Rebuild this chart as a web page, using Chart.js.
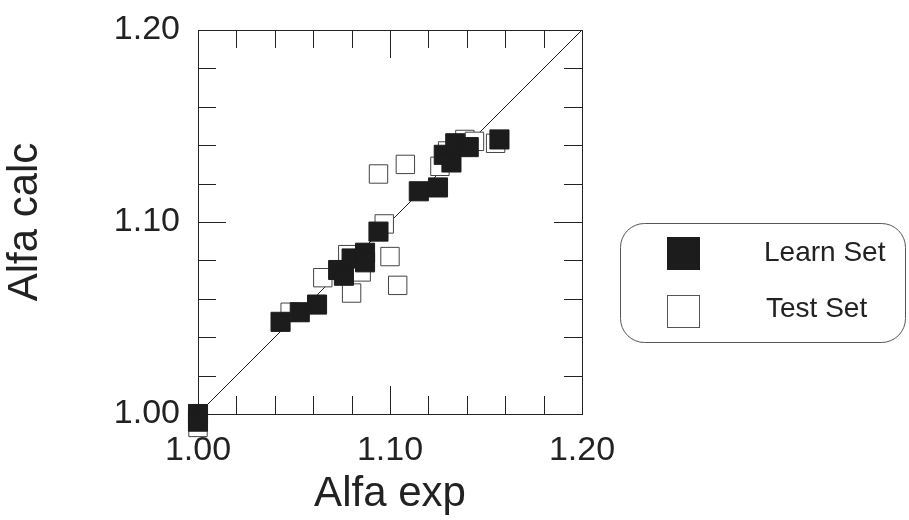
<!DOCTYPE html>
<html>
<head>
<meta charset="utf-8">
<script src="https://cdn.jsdelivr.net/npm/chart.js@4/dist/chart.umd.min.js"></script>
<style>
  body { margin: 0; background: #fff; }
</style>
</head>
<body>
<canvas id="scatterChart" width="909" height="520"></canvas>
<script>
// Learn set (filled squares)
const learnExp  = [1.000, 1.000, 1.043, 1.053, 1.062, 1.073, 1.076, 1.080, 1.087, 1.087, 1.094, 1.115, 1.125, 1.128, 1.132, 1.134, 1.141, 1.157]
const learnCalc = [1.000, 0.996, 1.048, 1.053, 1.057, 1.075, 1.072, 1.081, 1.084, 1.079, 1.095, 1.116, 1.118, 1.135, 1.131, 1.141, 1.139, 1.143]

// Test set (open squares)
const testExp  = [1.000, 1.048, 1.065, 1.078, 1.080, 1.085, 1.097, 1.100, 1.104, 1.094, 1.108, 1.126, 1.130, 1.139, 1.144, 1.155]
const testCalc = [0.993, 1.053, 1.071, 1.083, 1.063, 1.074, 1.099, 1.082, 1.067, 1.125, 1.130, 1.129, 1.137, 1.143, 1.142, 1.141]

const axisMin = 1.00
const axisMax = 1.20
const labelStep = 0.10
const tickMarks = [1.02, 1.04, 1.06, 1.08, 1.10, 1.12, 1.14, 1.16, 1.18]
const majorMark = 1.10

const seriesNames = ['Learn Set', 'Test Set']

const toPoints = (xs, ys) => xs.map((x, i) => ({ x: x, y: ys[i] }))

const ink = '#222222'
const fontName = "'Liberation Sans', Arial, sans-serif"

// frame + inward tick marks on all four sides
const framePlugin = {
    id: 'frame',
    beforeDatasetsDraw(chart) {
        const { ctx, chartArea: a, scales } = chart
        ctx.save()
        ctx.strokeStyle = ink
        ctx.lineWidth = 1
        ctx.strokeRect(a.left + 0.5, a.top + 0.5, a.right - a.left, a.bottom - a.top)
        ctx.beginPath()
        tickMarks.forEach(v => {
            const len = Math.abs(v - majorMark) < 1e-9 ? 28 : 18
            const px = Math.round(scales.x.getPixelForValue(v)) + 0.5
            const py = Math.round(scales.y.getPixelForValue(v)) + 0.5
            ctx.moveTo(px, a.bottom); ctx.lineTo(px, a.bottom - len)
            ctx.moveTo(px, a.top); ctx.lineTo(px, a.top + len)
            ctx.moveTo(a.left, py); ctx.lineTo(a.left + len, py)
            ctx.moveTo(a.right, py); ctx.lineTo(a.right - len, py)
        })
        ctx.stroke()
        ctx.restore()
    }
}

// boxed legend on the right
const boxLegend = {
    id: 'boxLegend',
    afterDraw(chart) {
        const ctx = chart.ctx
        const sets = chart.data.datasets
        ctx.save()
        ctx.strokeStyle = '#555'
        ctx.lineWidth = 1
        ctx.beginPath()
        ctx.roundRect(620.5, 223.5, 285, 119, 24)
        ctx.stroke()

        ctx.fillStyle = sets[0].backgroundColor
        ctx.fillRect(667, 237, 33, 33)
        ctx.strokeStyle = '#555'
        ctx.strokeRect(667.5, 295.5, 32, 32)

        ctx.fillStyle = ink
        ctx.font = '28px ' + fontName
        ctx.textBaseline = 'middle'
        ctx.fillText(sets[0].label, 764, 253)
        ctx.fillText(sets[1].label, 766, 309)
        ctx.restore()
    }
}

const ctxEl = document.getElementById('scatterChart').getContext('2d')

const scatterChart = new Chart(ctxEl, {
    type: 'scatter',
    data: {
        datasets: [{
            label: seriesNames[0],
            data: toPoints(learnExp, learnCalc),
            pointStyle: 'rect',
            pointRadius: 13.5,
            backgroundColor: '#1c1c1c',
            borderColor: '#1c1c1c',
            borderWidth: 1,
            clip: false
        }, {
            label: seriesNames[1],
            data: toPoints(testExp, testCalc),
            pointStyle: 'rect',
            pointRadius: 13,
            backgroundColor: '#ffffff',
            borderColor: '#444',
            borderWidth: 1,
            clip: false
        }, {
            type: 'line',
            label: 'diagonal',
            data: [{ x: axisMin, y: axisMin }, { x: axisMax, y: axisMax }],
            borderColor: ink,
            borderWidth: 1,
            pointRadius: 0
        }]
    },
    plugins: [framePlugin, boxLegend],
    options: {
        responsive: false,
        animation: false,
        layout: { padding: { left: 0, top: 30, right: 327, bottom: 0 } },
        plugins: {
            legend: { display: false },
            tooltip: { enabled: false }
        },
        scales: {
            x: {
                type: 'linear',
                min: axisMin,
                max: axisMax,
                afterFit: s => { s.height = 106; s.paddingLeft = 0; s.paddingRight = 0 },
                grid: { display: false, drawTicks: false },
                border: { display: false },
                ticks: {
                    stepSize: labelStep,
                    padding: 16,
                    color: ink,
                    font: { family: fontName, size: 34 },
                    maxRotation: 0,
                    callback: v => v.toFixed(2)
                },
                title: {
                    display: true,
                    text: 'Alfa exp',
                    color: ink,
                    font: { family: fontName, size: 42 },
                    padding: { top: 0, bottom: 0 }
                }
            },
            y: {
                type: 'linear',
                min: axisMin,
                max: axisMax,
                afterFit: s => { s.width = 198; s.paddingTop = 0; s.paddingBottom = 0 },
                grid: { display: false, drawTicks: false },
                border: { display: false },
                ticks: {
                    stepSize: labelStep,
                    padding: 18,
                    color: ink,
                    font: { family: fontName, size: 34 },
                    callback: v => v.toFixed(2)
                },
                title: {
                    display: true,
                    text: 'Alfa calc',
                    color: ink,
                    font: { family: fontName, size: 42 },
                    padding: { top: 0, bottom: 0 }
                }
            }
        }
    }
})
</script>
</body>
</html>
